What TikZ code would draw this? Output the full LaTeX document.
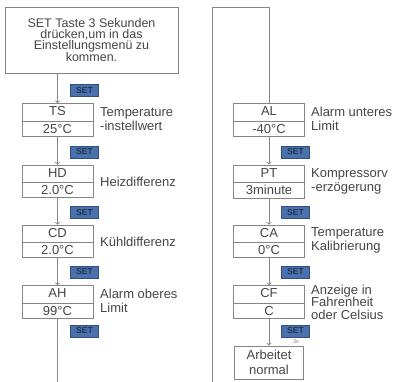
\documentclass[tikz,border=0pt]{standalone}
\usepackage{fontspec}
\setmainfont{Liberation Sans}
\usetikzlibrary{shapes,arrows}
\definecolor{linegray}{HTML}{858585}
\definecolor{txtgray}{HTML}{454545}
\definecolor{setblue}{HTML}{4A71AC}
\definecolor{setedge}{HTML}{2F4F80}
\tikzset{
  menubox/.style={draw=linegray, line width=.9pt, rectangle split, rectangle split parts=2,
    text width=65pt, align=center, inner xsep=3pt, inner ysep=2.4pt,
    text height=9.3pt, text depth=2.7pt, text=txtgray,
    font=\fontsize{13}{13}\selectfont},
  setkey/.style={draw=setedge, fill=setblue, text=black!70!setedge, inner sep=0pt,
    minimum width=28pt, minimum height=12pt, font=\fontsize{8.5}{8.5}\selectfont},
  hint/.style={anchor=west, align=left, text=txtgray, inner sep=0pt,
    font=\fontsize{13}{14}\selectfont},
  flow/.style={draw=linegray, line width=.9pt, ->}
}
\begin{document}
\begin{tikzpicture}[x=1pt,y=-1pt]
\useasboundingbox (0,0) rectangle (394,382);
% first column
\node[draw=linegray, line width=.9pt, minimum width=173pt, minimum height=66pt, align=center,
  text=txtgray, font=\fontsize{12.5}{11}\selectfont] (start) at (91.5,40)
  {SET Taste 3 Sekunden\\dr\"ucken,um in das\\Einstellungsmen\"u zu\\kommen.};
\node[menubox] (ts) at (57.5,120) {TS\nodepart{two}25\textdegree C};
\node[menubox] (hd) at (57.5,181.5) {HD\nodepart{two}2.0\textdegree C};
\node[menubox] (cd) at (57.5,241.5) {CD\nodepart{two}2.0\textdegree C};
\node[menubox] (ah) at (57.5,302) {AH\nodepart{two}99\textdegree C};
\node[hint] (tsinfo) at (100,119) {Temperature\\-instellwert};
\node[hint] (hdinfo) at (100,182) {Heizdifferenz};
\node[hint] (cdinfo) at (100,242) {K\"uhldifferenz};
\node[hint] (ahinfo) at (100,301) {Alarm oberes\\Limit};
\draw[flow] (start.south -| ts.north) -- (ts.north);
\draw[flow] (ts.south) -- (hd.north);
\draw[flow] (hd.south) -- (cd.north);
\draw[flow] (cd.south) -- (ah.north);
\coordinate (down) at (57.5,382);
\draw[draw=linegray, line width=.9pt] (ah.south) -- (down);
\foreach \y/\n in {90.5/s1,152/s2,212.5/s3,272/s4,331/s5}
  \node[setkey] (\n) at (84.5,\y) {SET};
% second column
\node[menubox] (al) at (269,120) {AL\nodepart{two}-40\textdegree C};
\node[menubox] (pt) at (269,181.5) {PT\nodepart{two}3minute};
\node[menubox] (ca) at (269,241.5) {CA\nodepart{two}0\textdegree C};
\node[menubox] (cf) at (269,302) {CF\nodepart{two}C};
\node[draw=linegray, line width=.9pt, text width=65pt, align=center, minimum height=33pt,
  inner sep=2pt, text=txtgray, font=\fontsize{13}{15}\selectfont] (run) at (269,362.5)
  {Arbeitet\\normal};
\node[hint] (alinfo) at (311,119) {Alarm unteres\\Limit};
\node[hint] (ptinfo) at (311,181) {Kompressorv\\-erz\"ogerung};
\node[hint] (cainfo) at (311,240) {Temperature\\Kalibrierung};
\node[hint, font=\fontsize{13}{12.5}\selectfont] (cfinfo) at (311,302) {Anzeige in\\Fahrenheit\\oder Celsius};
\coordinate (up) at (212,382);
\coordinate (corner) at (212,7);
\draw[draw=linegray, line width=.9pt] (up) -- (corner) -| (al.north);
\draw[flow] (al.south) -- (pt.north);
\draw[flow] (pt.south) -- (ca.north);
\draw[flow] (ca.south) -- (cf.north);
\draw[flow] (cf.south) -- (run.north);
\foreach \y/\n in {152/r1,212.5/r2,272/r3,331/r4}
  \node[setkey] (\n) at (295.5,\y) {SET};
\node[text=linegray, inner sep=0pt, font=\fontsize{5.5}{5.5}\selectfont] (hold) at (296,341.5) {3s};
\end{tikzpicture}
\end{document}
